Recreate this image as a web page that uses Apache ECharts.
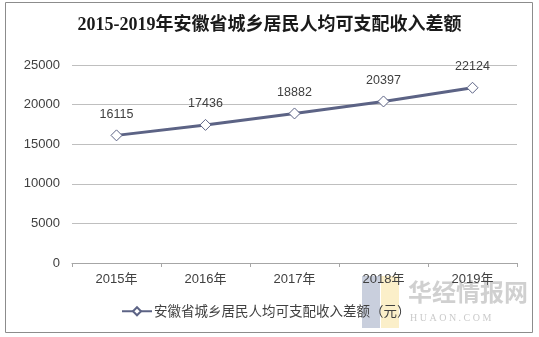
<!DOCTYPE html>
<html>
<head>
<meta charset="utf-8">
<script src="https://cdn.jsdelivr.net/npm/echarts@6/dist/echarts.min.js"></script>
<style>
  html, body { margin: 0; padding: 0; background: #fff; }
  #chart { width: 539px; height: 337px; }
</style>
</head>
<body>
<div id="chart"></div>
<script>
// 安徽省城乡居民人均可支配收入差额（元）
const years = ['2015年', '2016年', '2017年', '2018年', '2019年'];
const incomeGap = [16115, 17436, 18882, 20397, 22124];
const seriesName = '安徽省城乡居民人均可支配收入差额（元）';
const titleText = '2015-2019年安徽省城乡居民人均可支配收入差额';

const lineColor = '#5c6385';
const textColor = '#404040';
const numFont = 'Arial, "Liberation Sans", "Noto Sans CJK SC", sans-serif';

const chart = echarts.init(document.getElementById('chart'));
chart.setOption({
  animation: false,
  backgroundColor: '#fff',
  title: {
    text: titleText,
    left: 'center',
    top: 11,
    textStyle: {
      fontFamily: '"Liberation Serif", "Noto Sans CJK SC", serif',
      fontSize: 18,
      fontWeight: 'bold',
      color: '#1a1a1a'
    }
  },
  legend: {
    show: true,
    left: 116,
    bottom: 14,
    itemWidth: 30,
    itemHeight: 10,
    itemGap: 4,
    textStyle: { color: textColor, fontSize: 13.5, padding: [0, 0, 0, -3], fontFamily: '"Noto Sans CJK SC", sans-serif' }
  },
  grid: { left: 72, right: 22, top: 65, bottom: 74 },
  xAxis: {
    type: 'category',
    data: years,
    boundaryGap: true,
    axisLine: { lineStyle: { color: '#a6a6a6' } },
    axisTick: { show: true, length: 4, lineStyle: { color: '#a6a6a6' } },
    axisLabel: { color: textColor, fontSize: 13, margin: 10, fontFamily: numFont }
  },
  yAxis: {
    type: 'value',
    min: 0,
    max: 25000,
    interval: 5000,
    axisLine: { show: false },
    axisTick: { show: false },
    splitLine: { lineStyle: { color: '#bfbfbf' } },
    axisLabel: {
      color: textColor,
      fontSize: 13,
      margin: 12,
      fontFamily: numFont,
      formatter: (v) => String(v)
    }
  },
  series: [{
    name: seriesName,
    type: 'line',
    data: incomeGap,
    symbol: 'diamond',
    symbolSize: [11, 11],
    lineStyle: { color: lineColor, width: 3 },
    itemStyle: { color: '#ffffff', borderColor: lineColor, borderWidth: 1 },
    label: {
      show: true,
      position: 'top',
      distance: 9,
      color: textColor,
      fontSize: 12.5,
      fontFamily: numFont,
      formatter: (p) => String(p.value)
    }
  }],
  graphic: [
    { type: 'rect', shape: { x: 362, y: 276, width: 18, height: 52 }, style: { fill: 'rgba(120,135,170,0.4)' }, silent: true, z: 0 },
    { type: 'rect', shape: { x: 381, y: 276, width: 18, height: 52 }, style: { fill: 'rgba(245,215,120,0.4)' }, silent: true, z: 0 },
    { type: 'text', left: 408, top: 280, style: { text: '华经情报网', fill: 'rgba(150,150,150,0.45)', font: 'bold 24px "Noto Sans CJK SC", sans-serif' }, silent: true, z: 0 },
    { type: 'text', left: 410, top: 313, style: { text: 'H U A O N . C O M', fill: 'rgba(150,150,150,0.5)', font: '10px "Liberation Serif", serif' }, silent: true, z: 0 },
    { type: 'rect', shape: { x: 5.5, y: 2.5, width: 527, height: 330 }, style: { fill: 'none', stroke: '#8c8c8c', lineWidth: 1 }, silent: true }
  ]
});
</script>
</body>
</html>
